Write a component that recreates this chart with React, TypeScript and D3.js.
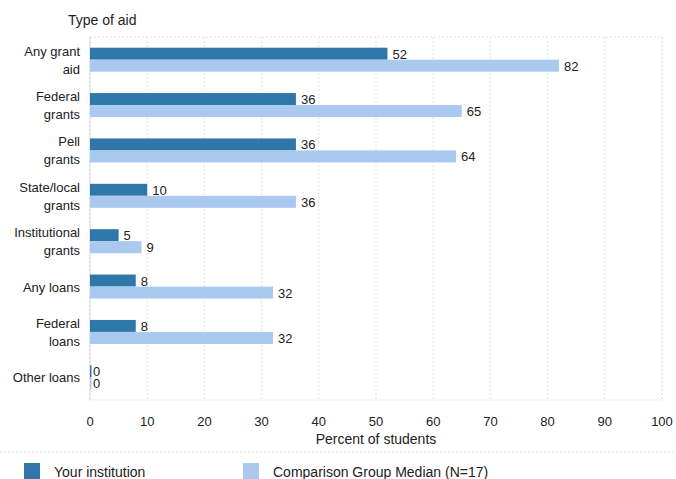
import React from "react";
import * as d3 from "d3";

const categories = [
  ["Any grant", "aid"],
  ["Federal", "grants"],
  ["Pell", "grants"],
  ["State/local", "grants"],
  ["Institutional", "grants"],
  ["Any loans"],
  ["Federal", "loans"],
  ["Other loans"],
];
const yourInstitution = [52, 36, 36, 10, 5, 8, 8, 0];
const comparisonMedian = [82, 65, 64, 36, 9, 32, 32, 0];
const xTicks = [0, 10, 20, 30, 40, 50, 60, 70, 80, 90, 100];

const DARK = "#2f77a8";
const LIGHT = "#a9c9ee";
const FONT = "'Liberation Sans', Arial, sans-serif";

export default function App() {
  const W = 676, H = 479;
  const left = 90, right = 662, top = 37, bottom = 400;
  const x = d3.scaleLinear().domain([0, 100]).range([left, right]);
  const y = d3.scaleBand<number>().domain(d3.range(categories.length)).range([top, bottom]);
  const barH = 12;

  return (
    <svg width={W} height={H} style={{ position: "absolute", left: 0, top: 0, background: "#fff" }} fontFamily={FONT}>
      <rect x={0} y={0} width={W} height={H} fill="#fff" />
      <text x={68} y={25} fontSize={14} fill="#222">Type of aid</text>
      {/* plot frame */}
      <rect x={left} y={top} width={right - left} height={bottom - top} fill="none" stroke="#dde3ee" strokeDasharray="2,2" />
      {xTicks.map((t) => (
        <line key={t} x1={x(t)} x2={x(t)} y1={top} y2={bottom} stroke="#dde3ee" strokeDasharray="2,2" />
      ))}
      <line x1={left} x2={left} y1={top} y2={bottom} stroke="#d6dde8" />
      {categories.map((lines, i) => {
        const cy = (y(i) as number) + y.bandwidth() / 2;
        const a = yourInstitution[i];
        const b = comparisonMedian[i];
        const n = lines.length;
        return (
          <g key={i}>
            {lines.map((l, k) => (
              <text key={k} x={80} y={cy + (k - (n - 1) / 2) * 18 + 5} textAnchor="end" fontSize={13} fill="#222">{l}</text>
            ))}
            <rect x={x(0)} y={cy - barH} width={Math.max(x(a) - x(0), 1.5)} height={barH} fill={DARK} />
            <rect x={x(0)} y={cy} width={Math.max(x(b) - x(0), 1.5)} height={barH} fill={LIGHT} />
            <text x={x(a) + (a === 0 ? 3 : 5)} y={cy - barH / 2 + 5} fontSize={13} fill="#222">{a}</text>
            <text x={x(b) + (b === 0 ? 3 : 5)} y={cy + barH / 2 + 5} fontSize={13} fill="#222">{b}</text>
          </g>
        );
      })}
      {xTicks.map((t) => (
        <text key={t} x={x(t)} y={426} textAnchor="middle" fontSize={13} fill="#222">{t}</text>
      ))}
      <text x={(left + right) / 2} y={444} textAnchor="middle" fontSize={14} fill="#222">Percent of students</text>
      <line x1={0} x2={W} y1={452} y2={452} stroke="#e0e4ea" strokeDasharray="2,2" />
      <rect x={24} y={463} width={16} height={16} fill={DARK} />
      <text x={54} y={477} fontSize={14} fill="#222">Your institution</text>
      <rect x={243} y={463} width={16} height={16} fill={LIGHT} />
      <text x={273} y={477} fontSize={14} fill="#222">Comparison Group Median (N=17)</text>
    </svg>
  );
}
